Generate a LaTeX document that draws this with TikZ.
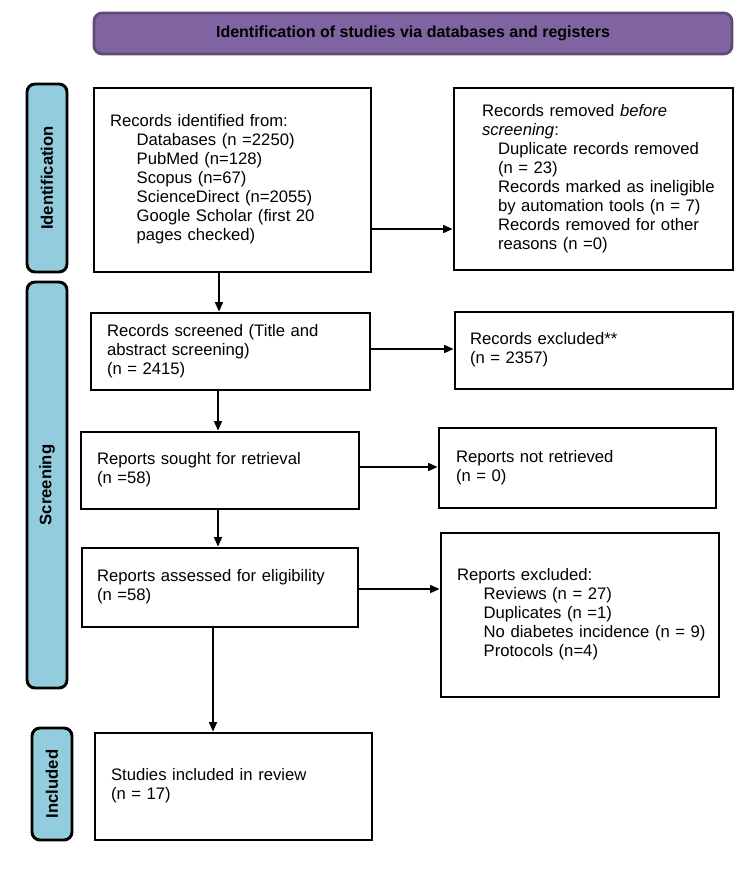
\documentclass[tikz,border=0pt]{standalone}
\usepackage{fontspec}
\setmainfont{Liberation Sans}
\usetikzlibrary{arrows.meta}
\definecolor{hdrfill}{HTML}{8064A2}
\definecolor{hdrline}{HTML}{5F497A}
\definecolor{sidefill}{HTML}{93CDDD}
\newcommand{\ind}[1]{\hspace*{#1}}
\begin{document}
\begin{tikzpicture}[x=0.75pt,y=-0.75pt,
  every node/.style={font=\fontsize{12.5pt}{14.2pt}\selectfont},
  box/.style={draw=black,line width=2.2pt,fill=white,inner ysep=0pt,align=left},
  side/.style={draw=black,line width=2.2pt,fill=sidefill,rounded corners=6pt,inner sep=0pt,
    font=\fontsize{12.5pt}{14.2pt}\selectfont\bfseries},
  hdr/.style={draw=hdrline,line width=2pt,fill=hdrfill,rounded corners=6pt,inner sep=0pt,
    font=\fontsize{12pt}{14pt}\selectfont\bfseries},
  arr/.style={draw=black,line width=1pt,-{Triangle[length=7pt,width=6pt]}}
]
\useasboundingbox (0,0) rectangle (750,876);
% header
\node[hdr,minimum width=478.5pt,minimum height=30.75pt] (hdr) at (413,33.5)
  {Identification of studies via databases and registers};
% side labels
\node[side,minimum width=30pt,minimum height=141pt] (sid) at (47,178)
  {\rotatebox{90}{Identification}};
\node[side,minimum width=30pt,minimum height=304.5pt] (sscr) at (47,485)
  {\rotatebox{90}{Screening}};
\node[side,minimum width=30pt,minimum height=84pt] (sinc) at (52,784)
  {\rotatebox{90}{Included}};
% boxes
\node[box,inner xsep=12pt,text width=183.75pt,minimum height=138pt] (recid) at (232.5,180)
  {\begin{tabular}{@{}l@{}}Records identified from:\\
   \ind{20pt}Databases (n =2250)\\
   \ind{20pt}PubMed (n=128)\\
   \ind{20pt}Scopus (n=67)\\
   \ind{20pt}ScienceDirect (n=2055)\\
   \ind{20pt}Google Scholar (first 20\\
   \ind{20pt}pages checked)\end{tabular}};
\node[box,inner xsep=21pt,text width=167.25pt,minimum height=136.5pt] (removed) at (593.5,179)
  {\begin{tabular}{@{}l@{}}Records removed \textit{before}\\
   \textit{screening}:\\
   \ind{12pt}Duplicate records removed\\
   \ind{12pt}(n = 23)\\
   \ind{12pt}Records marked as ineligible\\
   \ind{12pt}by automation tools (n = 7)\\
   \ind{12pt}Records removed for other\\
   \ind{12pt}reasons (n =0)\end{tabular}};
\node[box,inner xsep=12pt,text width=185.25pt,minimum height=57.75pt] (screened) at (230.5,351.5)
  {\begin{tabular}{@{}l@{}}Records screened (Title and\\
   abstract screening)\\
   (n = 2415)\end{tabular}};
\node[box,inner xsep=11.25pt,text width=186pt,minimum height=57.75pt] (excl1) at (594,350.5)
  {\begin{tabular}{@{}l@{}}Records excluded**\\
   (n = 2357)\end{tabular}};
\node[box,inner xsep=12pt,text width=184.5pt,minimum height=57.75pt] (sought) at (220,470.5)
  {\begin{tabular}{@{}l@{}}Reports sought for retrieval\\
   (n =58)\end{tabular}};
\node[box,inner xsep=12.75pt,text width=182.25pt,minimum height=60pt] (notret) at (577.5,468)
  {\begin{tabular}{@{}l@{}}Reports not retrieved\\
   (n = 0)\end{tabular}};
\node[box,inner xsep=11.25pt,text width=184.5pt,minimum height=59.25pt] (assessed) at (220,587.5)
  {\begin{tabular}{@{}l@{}}Reports assessed for eligibility\\
   (n =58)\end{tabular}};
\node[box,inner xsep=12pt,text width=184.5pt,minimum height=123pt] (excl2) at (580,615)
  {\begin{tabular}{@{}l@{}}Reports excluded:\\
   \ind{20pt}Reviews (n = 27)\\
   \ind{20pt}Duplicates (n =1)\\
   \ind{20pt}No diabetes incidence (n = 9)\\
   \ind{20pt}Protocols (n=4)\end{tabular}};
\node[box,inner xsep=12pt,text width=183.75pt,minimum height=80.25pt] (studies) at (233.5,786.5)
  {\begin{tabular}{@{}l@{}}Studies included in review\\
   (n = 17)\end{tabular}};
% arrow guide coordinates
\coordinate (ya) at (0,229);
\coordinate (yb) at (0,349);
\coordinate (yc) at (0,467);
\coordinate (yd) at (0,589);
\coordinate (xa) at (219,0);
\coordinate (xb) at (218,0);
\coordinate (xc) at (213,0);
% connectors
\draw[arr] (recid.east |- ya) -- (removed.west |- ya);
\draw[arr] (recid.south -| xa) -- (screened.north -| xa);
\draw[arr] (screened.east |- yb) -- (excl1.west |- yb);
\draw[arr] (screened.south -| xb) -- (sought.north -| xb);
\draw[arr] (sought.east |- yc) -- (notret.west |- yc);
\draw[arr] (sought.south -| xb) -- (assessed.north -| xb);
\draw[arr] (assessed.east |- yd) -- (excl2.west |- yd);
\draw[arr] (assessed.south -| xc) -- (studies.north -| xc);
\end{tikzpicture}
\end{document}
